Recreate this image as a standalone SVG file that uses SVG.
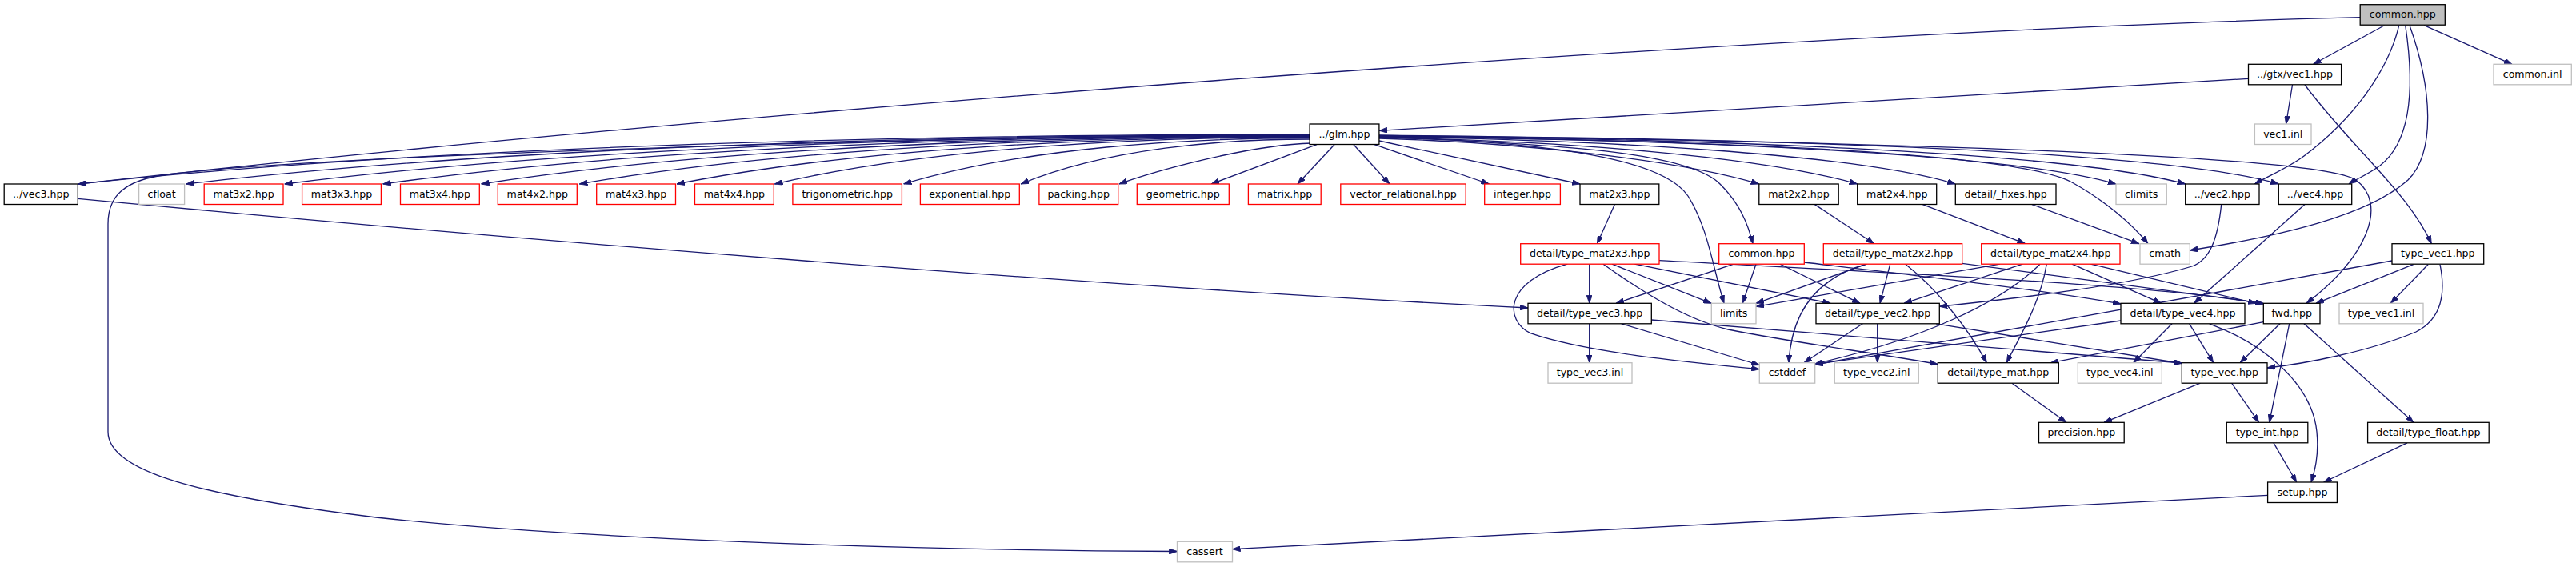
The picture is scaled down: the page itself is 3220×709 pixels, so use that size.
<svg xmlns="http://www.w3.org/2000/svg" width="3220" height="709" viewBox="0 0 3220 709">
<style>
.e{fill:none;stroke:#191970;stroke-width:1.3;marker-end:url(#ah)}
.n rect{fill:#fff;stroke:#000;stroke-width:1.3}
.r rect{fill:#fff;stroke:#ff0000;stroke-width:1.3}
.g rect{fill:#fff;stroke:#bfbfbf;stroke-width:1.3}
.root rect{fill:#bfbfbf;stroke:#000;stroke-width:1.3}
text{font-family:"DejaVu Sans","Liberation Sans",sans-serif;font-size:12.6px;fill:#000;text-anchor:middle}
</style>
<defs>
<marker id="ah" viewBox="0 0 10 7" refX="10" refY="3.5" markerWidth="10" markerHeight="7" markerUnits="userSpaceOnUse" orient="auto">
<path d="M0,0 L10,3.5 L0,7 z" fill="#191970" stroke="#191970" stroke-width="0.8"/>
</marker>
</defs>
<rect width="3220" height="709" fill="#fff"/>
<g id="connectors">
<path class="e" d="M2950.2,21.7 C2200,40 900,140 98,230"/>
<path class="e" d="M2980.5,31.7 L2891.6,80.3"/>
<path class="e" d="M3030.2,31.7 L3140,80.3"/>
<path class="e" d="M2998.8,31.7 C2985,90 2940,150 2880,195 C2860,210 2835,220 2818.4,230"/>
<path class="e" d="M3006.7,31.7 C3020,120 3010,180 2975,207 C2960,218 2945,224 2936,230"/>
<path class="e" d="M3012,31.7 C3040,110 3045,190 3010,225 C2960,270 2850,295 2737.3,313"/>
<path class="e" d="M2810.5,98.3 L1724,163.3"/>
<path class="e" d="M2865.5,106 L2857.6,155"/>
<path class="e" d="M2881,106 C2940,185 3010,240 3039.3,304.7"/>
<path class="e" d="M1637.1,168 C1175.3,168 559.7,180.4 98,230"/>
<path class="e" d="M1637.1,168.5 C1215.7,168.5 654,180.8 232.7,230"/>
<path class="e" d="M1637.1,169 C1252.6,169 740,181.2 355.6,230"/>
<path class="e" d="M1637.1,169.5 C1289.5,169.5 826,181.6 478.5,230"/>
<path class="e" d="M1637.1,170 C1326.4,170 912.2,182 601.5,230"/>
<path class="e" d="M1637.1,170.5 C1363.2,170.5 998.1,182.4 724.3,230"/>
<path class="e" d="M1637.1,171 C1399.7,171 1083.3,182.8 846,230"/>
<path class="e" d="M1637.1,171.5 C1436.4,171.5 1169,183.2 968.4,230"/>
<path class="e" d="M1637.1,172.5 C1484.8,172.5 1281.8,184 1129.5,230"/>
<path class="e" d="M1637.1,174 C1528.7,174 1384.3,185.2 1276,230"/>
<path class="e" d="M1640,179 C1560,181 1440,215 1398.8,230"/>
<path class="e" d="M1646,180.7 L1514,230"/>
<path class="e" d="M1668,180.7 L1622,230"/>
<path class="e" d="M1692,180.7 L1737,230"/>
<path class="e" d="M1718,180.7 L1861.5,230"/>
<path class="e" d="M1723.9,176 L1975,230"/>
<path class="e" d="M1723.9,173 C1900,178 2100,200 2198.8,230"/>
<path class="e" d="M1723.9,172 C1950,176 2200,195 2321.7,230"/>
<path class="e" d="M1723.9,171 C2000,175 2320,192 2444.3,230"/>
<path class="e" d="M1723.9,170.5 C2050,174 2500,188 2645,230"/>
<path class="e" d="M1723.9,170 C2100,173 2580,188 2731.7,230"/>
<path class="e" d="M1723.9,169.5 C2150,172 2700,186 2848.3,230"/>
<path class="e" d="M1723.9,169 C2400,178 2900,195 2945,225 C2985,255 2960,320 2883,379.3"/>
<path class="e" d="M1723.9,170.5 C2150,176 2520,190 2590,228 C2630,250 2665,280 2685,304.7"/>
<path class="e" d="M1723.9,171.5 C1950,178 2080,200 2110,245 C2135,285 2140,330 2155,379.3"/>
<path class="e" d="M1723.9,171 C1950,180 2110,190 2150,230 C2175,255 2185,280 2191,304.7"/>
<path class="e" d="M1637.1,168 C1100,172 400,195 210,218 C155,225 135,245 135,280 L135,540 C135,590 250,620 470,647 C700,672 1100,688 1471.5,689.5"/>
<path class="e" d="M97.3,248.3 C700,305 1400,360 1910,385"/>
<path class="e" d="M2018.4,255.6 L1996.4,304.7"/>
<path class="e" d="M2268.4,255.6 L2342.7,304.7"/>
<path class="e" d="M2403.3,255.6 L2531.7,304.7"/>
<path class="e" d="M2540,255.6 L2674,304.7"/>
<path class="e" d="M2881,255.6 L2742.6,379.3"/>
<path class="e" d="M2776.7,255.6 C2772,300 2762,325 2740,333 C2650,360 2500,375 2424.3,383.3"/>
<path class="e" d="M1959.3,330.2 C1880,352 1880,400 1913,416.7 C1980,440 2100,452 2199.3,461.7"/>
<path class="e" d="M1986.7,330.2 L1986.7,379.3"/>
<path class="e" d="M2004,330.2 C2060,370 2110,400 2160,412 C2250,430 2350,442 2422.3,455.5"/>
<path class="e" d="M2015,330.2 L2139.3,379.3"/>
<path class="e" d="M2043.3,330.2 L2288.3,379.3"/>
<path class="e" d="M2074,325.7 C2300,338 2700,355 2829.3,380"/>
<path class="e" d="M2167.3,330.2 L2020,379.3"/>
<path class="e" d="M2195,330.2 L2178.3,379.3"/>
<path class="e" d="M2225,330.2 L2325,379.3"/>
<path class="e" d="M2255.3,328 C2400,345 2550,362 2651,380"/>
<path class="e" d="M2333.3,330.2 L2195,379.3"/>
<path class="e" d="M2333.3,330.2 C2280,345 2240,380 2236,453.7"/>
<path class="e" d="M2362.7,330.2 L2350,379.3"/>
<path class="e" d="M2381.7,330.2 C2420,360 2460,410 2483.3,453.7"/>
<path class="e" d="M2452.7,329.3 L2829.3,379.3"/>
<path class="e" d="M2500,330.2 L2195,383.3"/>
<path class="e" d="M2528.3,330.2 L2380,379.3"/>
<path class="e" d="M2550,330.2 C2500,380 2400,425 2268.7,455"/>
<path class="e" d="M2558.3,330.2 C2550,380 2525,420 2508.3,453.7"/>
<path class="e" d="M2590,330.2 L2701.7,379.3"/>
<path class="e" d="M2613.3,330.2 L2820,379.3"/>
<path class="e" d="M2990,326 L2268.7,456"/>
<path class="e" d="M3016.7,330.7 L2895,379.3"/>
<path class="e" d="M3035,330.7 L2988.3,379.3"/>
<path class="e" d="M3050,330.7 C3058,370 3050,400 3020,415 C2960,440 2880,455 2834,460"/>
<path class="e" d="M1986.7,404.8 L1986.7,453.7"/>
<path class="e" d="M2026.7,404.8 L2199.3,456.5"/>
<path class="e" d="M2064.3,400 L2727.3,454"/>
<path class="e" d="M2328.3,404.8 L2255,453.7"/>
<path class="e" d="M2346.7,404.8 L2346.7,453.7"/>
<path class="e" d="M2420,404.8 L2727.3,454.5"/>
<path class="e" d="M2651,401 L2268.7,455.5"/>
<path class="e" d="M2715,404.8 L2666.7,453.7"/>
<path class="e" d="M2736.7,404.8 L2766.7,453.7"/>
<path class="e" d="M2761.7,404.8 C2830,430 2890,480 2896,540 C2899,570 2893,590 2889,603"/>
<path class="e" d="M2829.3,402.7 L2563.3,453.7"/>
<path class="e" d="M2850,404.8 L2800,453.7"/>
<path class="e" d="M2861.7,404.8 L2836.7,528.3"/>
<path class="e" d="M2880,404.8 L3017,528.3"/>
<path class="e" d="M2750.4,479.2 L2630,528.3"/>
<path class="e" d="M2789.6,479.2 L2823.6,528.3"/>
<path class="e" d="M2515,479.2 L2583,528.3"/>
<path class="e" d="M2842,553.8 L2870.7,603"/>
<path class="e" d="M3009,553.8 L2904.7,603"/>
<path class="e" d="M2834.6,619.3 L1540.5,686.7"/>
</g>
<g id="n_common_root" class="root"><rect x="2950.2" y="5.7" width="106.1" height="25.5"/><text x="3003.25" y="22.2">common.hpp</text></g>
<g id="n_gtx_vec1" class="n"><rect x="2810.5" y="80.3" width="116.1" height="25.5"/><text x="2868.55" y="96.8">../gtx/vec1.hpp</text></g>
<g id="n_common_inl" class="g"><rect x="3117" y="80.3" width="97.3" height="25.5"/><text x="3165.65" y="96.8">common.inl</text></g>
<g id="n_glm" class="n"><rect x="1637.1" y="155" width="86.8" height="25.5"/><text x="1680.5" y="171.5">../glm.hpp</text></g>
<g id="n_vec1_inl" class="g"><rect x="2818.4" y="155" width="70.6" height="25.5"/><text x="2853.7" y="171.5">vec1.inl</text></g>
<g id="n_vec3" class="n"><rect x="5.2" y="230" width="92.1" height="25.5"/><text x="51.25" y="246.5">../vec3.hpp</text></g>
<g id="n_cfloat" class="g"><rect x="173.6" y="230" width="57" height="25.5"/><text x="202.1" y="246.5">cfloat</text></g>
<g id="n_mat3x2" class="r"><rect x="255.2" y="230" width="98.8" height="25.5"/><text x="304.6" y="246.5">mat3x2.hpp</text></g>
<g id="n_mat3x3" class="r"><rect x="377.6" y="230" width="98.8" height="25.5"/><text x="427" y="246.5">mat3x3.hpp</text></g>
<g id="n_mat3x4" class="r"><rect x="500.5" y="230" width="98.8" height="25.5"/><text x="549.9" y="246.5">mat3x4.hpp</text></g>
<g id="n_mat4x2" class="r"><rect x="622.3" y="230" width="99" height="25.5"/><text x="671.8" y="246.5">mat4x2.hpp</text></g>
<g id="n_mat4x3" class="r"><rect x="745.7" y="230" width="98.8" height="25.5"/><text x="795.1" y="246.5">mat4x3.hpp</text></g>
<g id="n_mat4x4" class="r"><rect x="868.5" y="230" width="98.8" height="25.5"/><text x="917.9" y="246.5">mat4x4.hpp</text></g>
<g id="n_trigonometric" class="r"><rect x="990.9" y="230" width="136.5" height="25.5"/><text x="1059.15" y="246.5">trigonometric.hpp</text></g>
<g id="n_exponential" class="r"><rect x="1150.4" y="230" width="123.9" height="25.5"/><text x="1212.35" y="246.5">exponential.hpp</text></g>
<g id="n_packing" class="r"><rect x="1298.9" y="230" width="98.8" height="25.5"/><text x="1348.3" y="246.5">packing.hpp</text></g>
<g id="n_geometric" class="r"><rect x="1421.3" y="230" width="115" height="25.5"/><text x="1478.8" y="246.5">geometric.hpp</text></g>
<g id="n_matrix" class="r"><rect x="1560.4" y="230" width="90.8" height="25.5"/><text x="1605.8" y="246.5">matrix.hpp</text></g>
<g id="n_vector_relational" class="r"><rect x="1675.8" y="230" width="156.4" height="25.5"/><text x="1754" y="246.5">vector_relational.hpp</text></g>
<g id="n_integer" class="r"><rect x="1855.7" y="230" width="94.7" height="25.5"/><text x="1903.05" y="246.5">integer.hpp</text></g>
<g id="n_mat2x3" class="n"><rect x="1975" y="230" width="98.8" height="25.5"/><text x="2024.4" y="246.5">mat2x3.hpp</text></g>
<g id="n_mat2x2" class="n"><rect x="2198.8" y="230" width="99.4" height="25.5"/><text x="2248.5" y="246.5">mat2x2.hpp</text></g>
<g id="n_mat2x4" class="n"><rect x="2321.7" y="230" width="99" height="25.5"/><text x="2371.2" y="246.5">mat2x4.hpp</text></g>
<g id="n_fixes" class="n"><rect x="2444.3" y="230" width="125.7" height="25.5"/><text x="2507.15" y="246.5">detail/_fixes.hpp</text></g>
<g id="n_climits" class="g"><rect x="2645" y="230" width="63.3" height="25.5"/><text x="2676.65" y="246.5">climits</text></g>
<g id="n_vec2" class="n"><rect x="2731.7" y="230" width="92.3" height="25.5"/><text x="2777.85" y="246.5">../vec2.hpp</text></g>
<g id="n_vec4" class="n"><rect x="2848.3" y="230" width="91.4" height="25.5"/><text x="2894" y="246.5">../vec4.hpp</text></g>
<g id="n_type_mat2x3" class="r"><rect x="1900.7" y="304.7" width="173.3" height="25.5"/><text x="1987.35" y="321.2">detail/type_mat2x3.hpp</text></g>
<g id="n_common_red" class="r"><rect x="2148.7" y="304.7" width="106.6" height="25.5"/><text x="2202" y="321.2">common.hpp</text></g>
<g id="n_type_mat2x2" class="r"><rect x="2279.3" y="304.7" width="173.4" height="25.5"/><text x="2366" y="321.2">detail/type_mat2x2.hpp</text></g>
<g id="n_type_mat2x4" class="r"><rect x="2476.7" y="304.7" width="173.3" height="25.5"/><text x="2563.35" y="321.2">detail/type_mat2x4.hpp</text></g>
<g id="n_cmath" class="g"><rect x="2675" y="304.7" width="62.3" height="25.5"/><text x="2706.15" y="321.2">cmath</text></g>
<g id="n_type_vec1" class="n"><rect x="2990" y="304.7" width="114.7" height="25.5"/><text x="3047.35" y="321.2">type_vec1.hpp</text></g>
<g id="n_type_vec3" class="n"><rect x="1910" y="379.3" width="154.3" height="25.5"/><text x="1987.15" y="395.8">detail/type_vec3.hpp</text></g>
<g id="n_limits" class="g"><rect x="2139.3" y="379.3" width="55.7" height="25.5"/><text x="2167.15" y="395.8">limits</text></g>
<g id="n_type_vec2" class="n"><rect x="2270" y="379.3" width="154.3" height="25.5"/><text x="2347.15" y="395.8">detail/type_vec2.hpp</text></g>
<g id="n_type_vec4" class="n"><rect x="2651" y="379.3" width="155" height="25.5"/><text x="2728.5" y="395.8">detail/type_vec4.hpp</text></g>
<g id="n_fwd" class="n"><rect x="2829.3" y="379.3" width="70.7" height="25.5"/><text x="2864.65" y="395.8">fwd.hpp</text></g>
<g id="n_type_vec1_inl" class="g"><rect x="2924" y="379.3" width="105" height="25.5"/><text x="2976.5" y="395.8">type_vec1.inl</text></g>
<g id="n_type_vec3_inl" class="g"><rect x="1935" y="453.7" width="105" height="25.5"/><text x="1987.5" y="470.2">type_vec3.inl</text></g>
<g id="n_cstddef" class="g"><rect x="2199.3" y="453.7" width="69.4" height="25.5"/><text x="2234" y="470.2">cstddef</text></g>
<g id="n_type_vec2_inl" class="g"><rect x="2293.3" y="453.7" width="105" height="25.5"/><text x="2345.8" y="470.2">type_vec2.inl</text></g>
<g id="n_type_mat" class="n"><rect x="2422.3" y="453.7" width="151" height="25.5"/><text x="2497.8" y="470.2">detail/type_mat.hpp</text></g>
<g id="n_type_vec4_inl" class="g"><rect x="2597.3" y="453.7" width="105" height="25.5"/><text x="2649.8" y="470.2">type_vec4.inl</text></g>
<g id="n_type_vec" class="n"><rect x="2727.3" y="453.7" width="106.7" height="25.5"/><text x="2780.65" y="470.2">type_vec.hpp</text></g>
<g id="n_precision" class="n"><rect x="2548.5" y="528.3" width="106.7" height="25.5"/><text x="2601.85" y="544.8">precision.hpp</text></g>
<g id="n_type_int" class="n"><rect x="2783.3" y="528.3" width="101.5" height="25.5"/><text x="2834.05" y="544.8">type_int.hpp</text></g>
<g id="n_type_float" class="n"><rect x="2959.6" y="528.3" width="151.6" height="25.5"/><text x="3035.4" y="544.8">detail/type_float.hpp</text></g>
<g id="n_setup" class="n"><rect x="2834.6" y="603" width="86.8" height="25.5"/><text x="2878" y="619.5">setup.hpp</text></g>
<g id="n_cassert" class="g"><rect x="1471.5" y="677.3" width="69" height="25.5"/><text x="1506" y="693.8">cassert</text></g>
</svg>
